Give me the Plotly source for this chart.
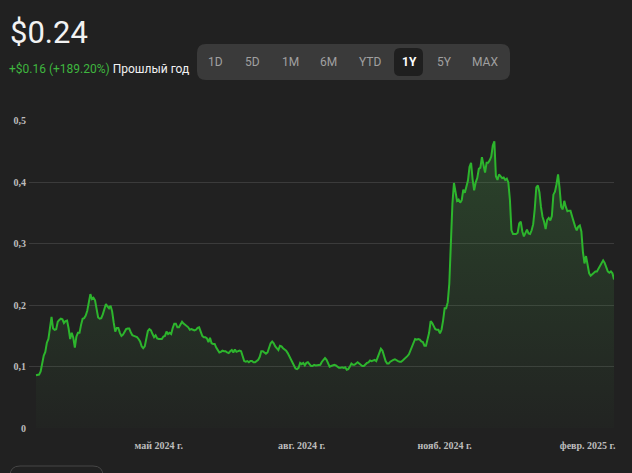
import pandas as pd
import plotly.graph_objects as go

# ---- data (daily closes) ----
start_date = "2024-02-12"
prices = [
    .086, .086, .087, .092, .105, .118, .124, .139, .145, .160,
    .181, .162, .160, .161, .173, .176, .178, .177, .171, .174,
    .175, .162, .145, .155, .147, .131, .149, .155, .155, .168,
    .178, .179, .183, .191, .205, .218, .210, .212, .208, .193,
    .180, .178, .179, .185, .194, .202, .198, .195, .199, .190,
    .172, .157, .163, .163, .155, .150, .152, .158, .161, .162,
    .162, .156, .151, .150, .149, .148, .145, .141, .133, .130,
    .133, .146, .158, .161, .159, .153, .148, .151, .146, .145,
    .145, .145, .149, .150, .157, .153, .155, .153, .163, .170,
    .170, .164, .164, .170, .173, .170, .168, .167, .164, .160,
    .161, .160, .159, .160, .163, .164, .158, .150, .148, .148,
    .146, .140, .147, .138, .137, .137, .131, .126, .123, .124,
    .126, .125, .125, .123, .122, .125, .127, .123, .128, .124,
    .125, .126, .125, .118, .109, .108, .109, .107, .109, .109,
    .107, .107, .109, .111, .116, .125, .125, .123, .121, .123,
    .130, .138, .141, .138, .133, .129, .127, .134, .133, .130,
    .128, .126, .122, .117, .112, .108, .103, .097, .096, .098,
    .106, .104, .106, .102, .106, .107, .104, .101, .101, .103,
    .102, .102, .103, .103, .108, .112, .114, .111, .106, .100,
    .101, .102, .103, .102, .100, .098, .098, .099, .098, .099,
    .095, .096, .100, .105, .103, .103, .105, .107, .105, .103,
    .101, .101, .104, .106, .107, .110, .109, .110, .111, .109,
    .115, .123, .129, .126, .117, .109, .105, .105, .108, .110,
    .111, .112, .110, .109, .108, .108, .110, .112, .114, .117,
    .120, .127, .132, .138, .145, .144, .145, .144, .141, .140,
    .134, .134, .144, .155, .174, .171, .166, .161, .160, .160,
    .154, .160, .175, .195, .195, .205, .235, .307, .365, .399,
    .384, .370, .372, .367, .371, .388, .383, .394, .403, .425,
    .432, .405, .387, .400, .407, .422, .424, .441, .428, .416,
    .432, .432, .436, .442, .460, .467, .410, .404, .413, .409,
    .407, .408, .404, .406, .400, .372, .322, .316, .316, .316,
    .318, .333, .336, .320, .312, .318, .323, .317, .316, .322,
    .332, .357, .392, .395, .384, .360, .344, .336, .324, .339,
    .342, .338, .345, .380, .385, .397, .413, .390, .360, .356,
    .370, .360, .353, .354, .354, .345, .335, .328, .322, .328,
    .330, .320, .287, .268, .280, .262, .252, .248, .250, .252,
    .255, .255, .260, .263, .270, .273, .269, .262, .255, .253,
    .255, .252, .242,
]
dates = pd.date_range(start_date, periods=len(prices), freq="D")

x_tick_vals = ["2024-05-01", "2024-08-01", "2024-11-01", "2025-02-01"]
x_tick_text = ["май 2024 г.", "авг. 2024 г.", "нояб. 2024 г.", "февр. 2025 г."]
y_tick_vals = [0, 0.1, 0.2, 0.3, 0.4, 0.5]
y_tick_text = ["0", "0,1", "0,2", "0,3", "0,4", "0,5"]

price_text = "$0.24"
change_text = "+$0.16 (+189.20%)"
period_text = "Прошлый год"
ranges = ["1D", "5D", "1M", "6M", "YTD", "1Y", "5Y", "MAX"]
selected_range = "1Y"

# ---- layout helpers (pixel -> paper for decorations) ----
W, H = 632, 473
L, R, T, B = 29, 18, 120, 44
PW, PH = W - L - R, H - T - B


def px(x):
    return (x - L) / PW


def py(y):
    return (H - B - y) / PH


def rrect(x0, y0, x1, y1, r):
    rx, ry = r / PW, r / PH
    X0, X1, Y0, Y1 = px(x0), px(x1), py(y1), py(y0)  # Y0 bottom, Y1 top
    return (f"M {X0+rx},{Y1} L {X1-rx},{Y1} Q {X1},{Y1} {X1},{Y1-ry} "
            f"L {X1},{Y0+ry} Q {X1},{Y0} {X1-rx},{Y0} L {X0+rx},{Y0} "
            f"Q {X0},{Y0} {X0},{Y0+ry} L {X0},{Y1-ry} Q {X0},{Y1} {X0+rx},{Y1} Z")


bg = "#212121"
green = "#2db52d"

fig = go.Figure()
fig.add_trace(go.Scatter(
    x=dates, y=prices, mode="lines",
    line=dict(color=green, width=2),
    fill="tozeroy",
    fillgradient=dict(type="vertical",
                      colorscale=[[0, "rgba(70,160,70,0.02)"], [1, "rgba(70,160,70,0.27)"]]),
    hoverinfo="skip", showlegend=False,
))

shapes = [
    dict(type="path", xref="paper", yref="paper", path=rrect(197, 44, 510, 80, 9),
         fillcolor="#3a3a3a", line=dict(width=0), layer="above"),
    dict(type="path", xref="paper", yref="paper", path=rrect(394, 48, 423, 76, 6),
         fillcolor="#1f1f1f", line=dict(width=0), layer="above"),
    dict(type="path", xref="paper", yref="paper", path=rrect(10, 466, 103, 490, 10),
         fillcolor="rgba(0,0,0,0)", line=dict(width=1, color="#464646"), layer="above"),
]

btn_x = [215, 252, 290, 328, 370, 409, 444, 485]
annotations = [
    dict(text=price_text, x=px(8), y=py(33), xref="paper", yref="paper",
         xanchor="left", yanchor="middle", showarrow=False,
         font=dict(family="Roboto", size=31, color="#f2f2f2")),
    dict(text=f'<span style="color:#3fb63f">{change_text}</span> {period_text}',
         x=px(7), y=py(69), xref="paper", yref="paper",
         xanchor="left", yanchor="middle", showarrow=False,
         font=dict(family="Roboto", size=12, color="#f2f2f2")),
]
for lab, bx in zip(ranges, btn_x):
    sel = lab == selected_range
    annotations.append(dict(
        text=lab, x=px(bx), y=py(62), xref="paper", yref="paper",
        xanchor="center", yanchor="middle", showarrow=False,
        font=dict(family="Roboto", size=12, color="#ffffff" if sel else "#a0a0a0",
                  weight="bold" if sel else "normal")))

axis_font = dict(family="Liberation Serif", size=10, color="#bdbdbd", weight="bold")
fig.update_layout(
    width=W, height=H,
    margin=dict(l=L, r=R, t=T, b=B),
    paper_bgcolor=bg, plot_bgcolor=bg,
    shapes=shapes, annotations=annotations,
    xaxis=dict(range=["2024-02-07 12:00", "2025-02-18"], tickvals=x_tick_vals,
               ticktext=x_tick_text, showgrid=False, zeroline=False, showline=False,
               ticks="", tickfont=axis_font, ticklabelstandoff=9, fixedrange=True),
    yaxis=dict(range=[-0.0016, 0.5016], tickvals=y_tick_vals, ticktext=y_tick_text,
               showgrid=True, gridcolor="#3b3b3b", gridwidth=1, zeroline=False,
               showline=False, ticks="", tickfont=axis_font, ticklabelstandoff=2,
               fixedrange=True),
    hovermode=False,
)

fig.write_html(
    "out.html",
    config={"displayModeBar": False},
    post_script="document.body.style.margin='0';document.body.style.background='#212121';",
)
